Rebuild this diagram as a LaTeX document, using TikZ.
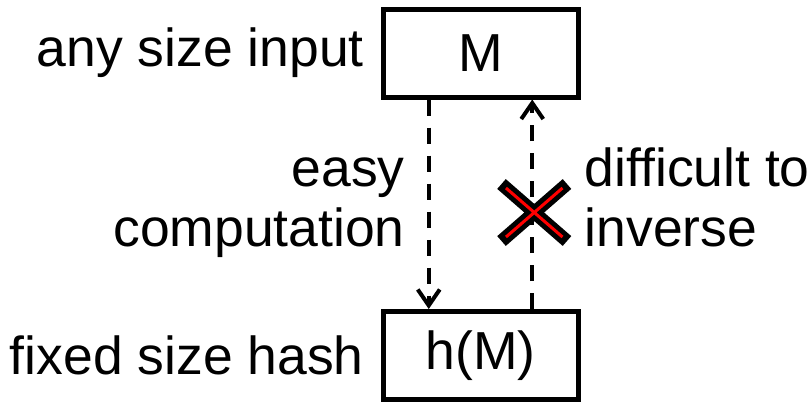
\documentclass[tikz,border=0pt]{standalone}
\usepackage{fontspec}
\setmainfont{Liberation Sans}
\usetikzlibrary{arrows.meta,calc,positioning}
\definecolor{LineClr}{rgb}{0,0,0}
\definecolor{CrossClr}{rgb}{1,0,0}

\begin{document}
\begin{tikzpicture}[x=1pt,y=-1pt,
  every node/.style={font=\fontsize{53.5}{60}\selectfont,inner sep=0pt},
  HashBox/.style={draw=LineClr,line width=5pt,minimum width=194.5pt,minimum height=88pt},
  DashArrow/.style={draw=LineClr,line width=4pt,dash pattern=on 16pt off 12pt,
    -{Straight Barb[length=16pt,width=22pt]}}]
\useasboundingbox (0,0) rectangle (809,402);

% Define the two boxes, the message and its hash.
\node[HashBox] (M) at (480.75,53) {M};
\node[HashBox] (hM) at (480.75,355.5) {h(M)};

% Labels on the left of the boxes.
\node[left=17pt of M] (AnyIn) {any size input};
\node[left=17pt of hM] (FixHash) {fixed size hash};

% The two directions between the boxes.
\draw[DashArrow] ([xshift=-52pt]M.south) -- node[midway,left=22pt,align=right,yshift=-3.5pt] (Easy) {easy\\computation} ([xshift=-52pt]hM.north);
\draw[DashArrow] ([xshift=51.5pt]hM.north) -- node[midway,right=50.5pt,align=left,yshift=6.5pt] (Hard) {difficult to\\inverse} ([xshift=51.5pt]M.south);

% Cross out the way back.
\coordinate (X) at (534.25,212.5);
\draw[line width=13pt,LineClr] ($(X)+(-32.75,-28.5)$) -- ($(X)+(32.75,28.5)$)
  ($(X)+(32.75,-28.5)$) -- ($(X)+(-32.75,28.5)$);
\draw[line width=3pt,CrossClr] ($(X)+(-28.25,-24.5)$) -- ($(X)+(28.25,24.5)$)
  ($(X)+(28.25,-24.5)$) -- ($(X)+(-28.25,24.5)$);

\end{tikzpicture}
\end{document}
